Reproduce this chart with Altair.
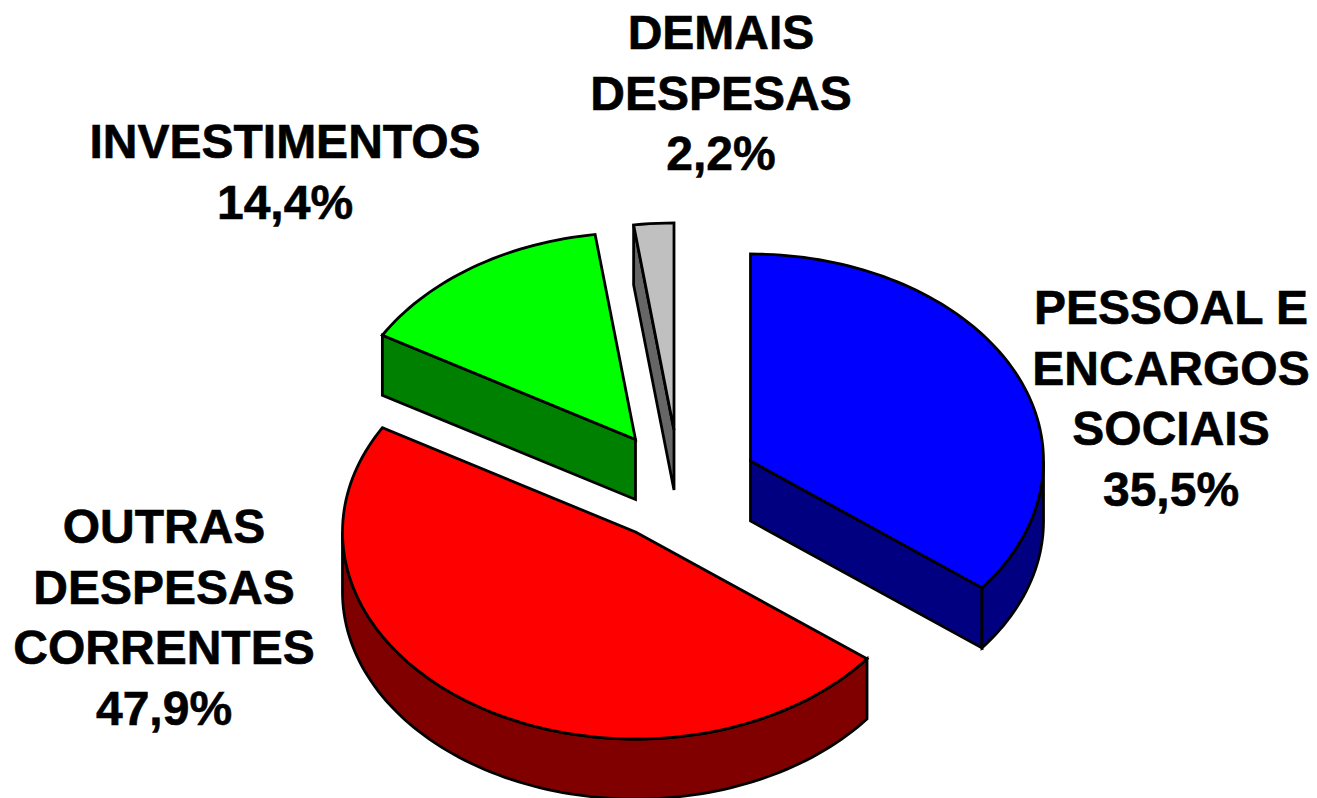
import math
import altair as alt
import pandas as pd

# Chart values, clockwise from the top of the pie
NAMES = ["PESSOAL E ENCARGOS SOCIAIS", "OUTRAS DESPESAS CORRENTES", "INVESTIMENTOS", "DEMAIS DESPESAS"]
VALUES = [35.5, 47.9, 14.4, 2.2]
TOP_COLORS = ["#0000ff", "#ff0000", "#00ff00", "#c0c0c0"]
SIDE_COLORS = ["#000080", "#800000", "#008000", "#666666"]
LABEL_LINES = [
    ["PESSOAL E", "ENCARGOS", "SOCIAIS", "35,5%"],
    ["OUTRAS", "DESPESAS", "CORRENTES", "47,9%"],
    ["INVESTIMENTOS", "14,4%"],
    ["DEMAIS", "DESPESAS", "2,2%"],
]

# Layout of the exploded, tilted pie
APEX = [(750.5, 461), (635.5, 532), (635.5, 439.5), (674, 430)]
RX, RY, DEPTH = 293, 207, 60
LABEL_X = [1171, 164, 285, 721]
LABEL_Y = [324, 543, 158, 49]
LINE_H = 60.5
FONT = "Liberation Sans"
FONT_SIZE = 48

X_SCALE = alt.Scale(domain=[8, 1309], nice=False, zero=False)
Y_SCALE = alt.Scale(domain=[798, 8], nice=False, zero=False)


def rim(apex, t0, t1, dy=0.0):
    n = max(2, int(abs(t1 - t0) / 1.5))
    return [
        (apex[0] + RX * math.cos(math.radians(t0 + (t1 - t0) * i / n)),
         apex[1] - RY * math.sin(math.radians(t0 + (t1 - t0) * i / n)) + dy)
        for i in range(n + 1)
    ]


def poly(points, fill):
    closed = list(points) + [points[0], points[1]]
    df = pd.DataFrame({"x": [p[0] for p in closed], "y": [p[1] for p in closed], "i": range(len(closed))})
    return alt.Chart(df).mark_line(
        fill=fill, stroke="black", strokeWidth=2.8, strokeJoin="miter", clip=False
    ).encode(
        x=alt.X("x:Q", scale=X_SCALE, axis=None),
        y=alt.Y("y:Q", scale=Y_SCALE, axis=None),
        order="i:Q",
    )


layers = []
start = 90.0
angles = []
for v in VALUES:
    end = start - v * 3.6
    angles.append((start, end))
    start = end

# Blue: cut wall and outer rim
a = APEX[0]; t0, t1 = angles[0]
p = rim(a, t1, t1)[0]
layers.append(poly([a, p, (p[0], p[1] + DEPTH), (a[0], a[1] + DEPTH)], SIDE_COLORS[0]))
r = rim(a, 0, t1)
layers.append(poly(r + [(q[0], q[1] + DEPTH) for q in reversed(r)], SIDE_COLORS[0]))
layers.append(poly([a] + rim(a, t0, t1), TOP_COLORS[0]))

# Red: outer rim
a = APEX[1]; t0, t1 = angles[1]
r = rim(a, t0, -180)
layers.append(poly(r + [(q[0], q[1] + DEPTH) for q in reversed(r)], SIDE_COLORS[1]))
layers.append(poly([a] + rim(a, t0, t1), TOP_COLORS[1]))

# Green: cut wall
a = APEX[2]; t0, t1 = angles[2]
p = rim(a, t0, t0)[0]
layers.append(poly([a, p, (p[0], p[1] + DEPTH), (a[0], a[1] + DEPTH)], SIDE_COLORS[2]))
layers.append(poly([a] + rim(a, t0, t1), TOP_COLORS[2]))

# Grey: cut wall
a = APEX[3]; t0, t1 = angles[3]
p = rim(a, t0, t0)[0]
layers.append(poly([a, p, (p[0], p[1] + DEPTH), (a[0], a[1] + DEPTH)], SIDE_COLORS[3]))
layers.append(poly([a] + rim(a, t0, t1), TOP_COLORS[3]))

# Labels
rows = []
for lines, lx, ly in zip(LABEL_LINES, LABEL_X, LABEL_Y):
    for k, line in enumerate(lines):
        rows.append({"x": lx, "y": ly + k * LINE_H, "t": line})
text = alt.Chart(pd.DataFrame(rows)).mark_text(
    font=FONT, fontSize=FONT_SIZE, fontWeight="bold", color="black", stroke="black", strokeWidth=0.6,
    align="center", baseline="alphabetic", clip=False
).encode(
    x=alt.X("x:Q", scale=X_SCALE, axis=None),
    y=alt.Y("y:Q", scale=Y_SCALE, axis=None),
    text="t:N",
)
layers.append(text)

chart = alt.layer(*layers).properties(
    width=1301, height=790, padding=0, autosize=alt.AutoSizeParams(type="none"), background="white"
).configure_view(stroke=None)

chart.save("out.html", embed_options={"renderer": "svg", "actions": False})
